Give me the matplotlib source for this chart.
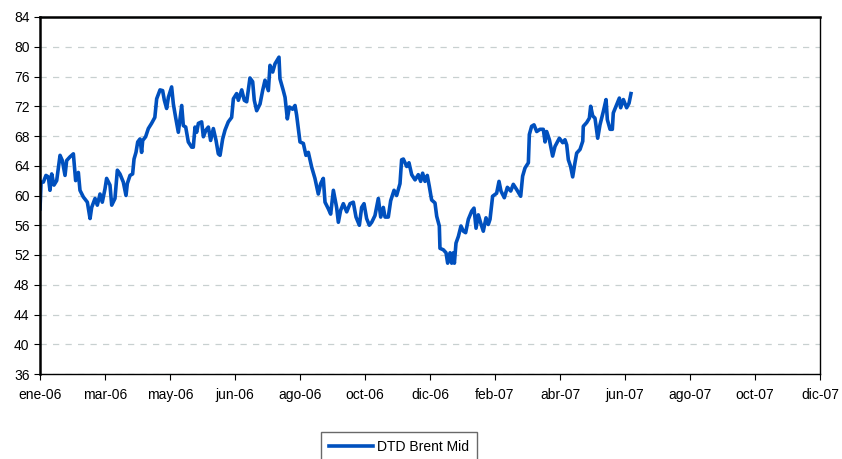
import numpy as np
import matplotlib
matplotlib.use("Agg")
import matplotlib.pyplot as plt

plt.rcParams['font.family'] = ['Liberation Sans', 'DejaVu Sans']

# Días desde 01-ene-2006 y precio DTD Brent Mid (USD/bbl)
dias = [0, 1, 3.1, 5.5, 7.7, 9.2, 10.8, 12.9, 15.4, 16.9, 18.5, 20.6, 23.1, 24.6, 27.7,
        30.8, 32.9, 35.4, 36.9, 40, 43.7, 46.2, 47.7, 50.8, 52.9, 55.4, 57.5, 60, 61.5,
        64.6, 66.2, 69.2, 71.4, 73.8, 76.9, 79.4, 80.6, 83.1, 85.5, 86.8, 88.6, 90.2,
        92.3, 93.8, 94.8, 97.5, 100, 103, 106, 107.7, 110.8, 113.2, 114.8, 116.9, 118.5,
        120, 121.5, 123.1, 125.2, 127.7, 129.2, 130.8, 132.3, 134.5, 136.9, 140, 141.5,
        143.1, 144.6, 146.2, 149.2, 150.8, 153.2, 155.4, 157.5, 160, 162.5, 164.6,
        166.2, 168.6, 170.8, 173.8, 176.9, 178.5, 181.5, 183.1, 186.2, 188.6, 190.8,
        193.8, 196.3, 197.8, 200, 203.1, 205.5, 207.7, 210.8, 212.3, 214.8, 216.9,
        220.6, 221.5, 224.6, 226.2, 228.3, 230.2, 233.2, 235.4, 236.9, 240, 243.1,
        245.5, 247.7, 250.8, 253.8, 256.9, 259.1, 261.5, 263.1, 266.2, 268.3, 270.8,
        273.8, 275.4, 277.5, 280, 283.1, 286.2, 289.2, 291.7, 294.8, 296.9, 299.1,
        301.5, 304, 306.2, 309.2, 312.3, 314.5, 316.9, 318.5, 321.5, 323.7, 326.8,
        329.2, 332.3, 333.8, 335.4, 338.5, 340.6, 343.1, 346.2, 349.2, 351.4, 353.2,
        355.4, 357.5, 359.4, 361.5, 364.6, 366.2, 368.6, 369.2, 372.3, 374.8, 376.3,
        378.5, 380, 381.5, 382.5, 384, 386.2, 388.6, 390.8, 392.9, 395.4, 398.5,
        400.6, 402.5, 404.6, 406.8, 409.2, 411.7, 413.8, 415.4, 417.8, 421.5, 423.7,
        425.5, 428.6, 431.4, 434.5, 436.9, 440, 443.7, 445.5, 447.7, 450.8, 451.7,
        453.8, 456, 458.5, 461.5, 464.6, 466.2, 467.7, 470.2, 473.2, 475.4, 479.4,
        482.5, 484.6, 486.2, 487.7, 489.8, 491.7, 493.8, 495.4, 498.5, 501, 501.5,
        504.6, 507.1, 508.3, 510.2, 512.3, 514.8, 516.9, 520, 522.5, 523.7, 526.2,
        528.3, 529.2, 532.3, 534.8, 536, 538.5, 541.5, 543.7, 545.5]
precio = [58.2, 61.8, 61.8, 62.7, 62.5, 60.7, 62.9, 61.4, 62.0, 63.6, 65.4, 64.7, 62.7, 64.7, 65.2,
          65.6, 62.0, 63.1, 60.7, 59.8, 59.1, 56.9, 58.4, 59.6, 58.7, 60.2, 59.1, 60.9, 62.3,
          61.4, 58.7, 59.6, 63.4, 62.9, 61.8, 60.0, 61.6, 62.7, 62.9, 64.9, 65.8, 67.2,
          67.6, 65.8, 67.4, 67.9, 69.0, 69.7, 70.5, 73.0, 74.2, 74.1, 72.8, 71.7, 73.2,
          73.9, 74.6, 72.3, 70.5, 68.5, 70.3, 72.1, 69.4, 69.2, 67.2, 66.5, 66.5,
          69.2, 68.5, 69.7, 69.9, 67.9, 68.8, 69.2, 67.4, 69.0, 67.4, 65.6,
          65.4, 67.6, 68.8, 69.9, 70.5, 73.0, 73.7, 72.8, 74.2, 72.8, 72.6,
          75.8, 75.3, 72.8, 71.4, 72.3, 74.1, 75.5, 74.1, 77.5, 76.6, 77.7,
          78.6, 75.7, 74.1, 73.2, 70.3, 71.9, 71.6, 72.1, 70.8, 67.2, 67.0,
          65.4, 65.8, 63.8, 62.3, 60.2, 61.6, 62.3, 59.1, 58.2, 57.5, 60.7,
          58.4, 56.4, 58.0, 58.9, 57.8, 58.9, 59.1, 57.1, 56.0, 58.4, 58.9,
          56.9, 56.0, 56.4, 57.3, 59.6, 57.1, 58.4, 57.1, 57.1, 59.3, 60.7,
          60.0, 61.6, 64.8, 64.9, 63.9, 64.4, 62.8, 62.1, 62.8, 61.9, 63.0,
          61.9, 62.7, 61.2, 59.4, 59.0, 57.2, 55.9, 52.9, 52.7, 52.3, 50.9,
          52.3, 50.9, 52.3, 50.9, 53.6, 54.5, 55.9, 55.2, 55.0, 56.8, 57.9,
          58.3, 55.6, 57.4, 56.3, 55.2, 57.0, 56.1, 56.8, 59.9, 60.3, 61.9,
          60.6, 59.7, 61.1, 60.6, 61.5, 60.8, 59.9, 62.6, 63.7, 64.4, 68.2,
          69.3, 69.5, 68.6, 68.9, 68.9, 67.2, 68.6, 67.5, 65.3, 66.6, 67.7,
          67.1, 67.5, 66.8, 64.8, 63.9, 62.5, 64.4, 65.7, 66.2, 67.3, 69.3,
          69.8, 70.4, 72.0, 70.7, 70.4, 67.7, 69.5, 71.3, 72.9, 70.2, 68.9,
          68.9, 71.1, 72.2, 73.1, 71.8, 72.9, 71.8, 72.4, 73.7]

etiquetas_x = ["ene-06", "mar-06", "may-06", "jun-06", "ago-06", "oct-06", "dic-06",
               "feb-07", "abr-07", "jun-07", "ago-07", "oct-07", "dic-07"]

fig = plt.figure(figsize=(8.42, 4.59), dpi=100)
ax = fig.add_axes([40 / 842, 1 - 374 / 459, 780 / 842, 357 / 459])

ax.plot(dias, precio, color="#0050BE", linewidth=2.6, solid_joinstyle="round",
        label="DTD Brent Mid")

ax.set_xlim(0, 720)
ax.set_ylim(36, 84)
ax.set_xticks(np.arange(0, 721, 60))
ax.set_xticklabels(etiquetas_x)
ax.set_yticks(np.arange(36, 85, 4))

ax.yaxis.grid(True, color="#C8D0D0", linestyle=(0, (5, 5)), linewidth=0.9)
ax.set_axisbelow(True)

for lado in ["top", "left"]:
    ax.spines[lado].set_linewidth(1.8)
for lado in ["bottom", "right"]:
    ax.spines[lado].set_linewidth(1.0)
for s in ax.spines.values():
    s.set_color("black")

ax.tick_params(axis="both", direction="out", length=4, width=0.8, labelsize=10,
               colors="black")
ax.tick_params(axis="x", pad=6)

fig.legend(loc="upper left", bbox_to_anchor=(321 / 842, 1 - 432 / 459),
           frameon=True, fancybox=False, shadow=False, edgecolor="#444444",
           fontsize=10, handlelength=3.2, borderpad=0.55, handletextpad=0.3,
           borderaxespad=0)

fig.savefig("out.png", dpi=100)
